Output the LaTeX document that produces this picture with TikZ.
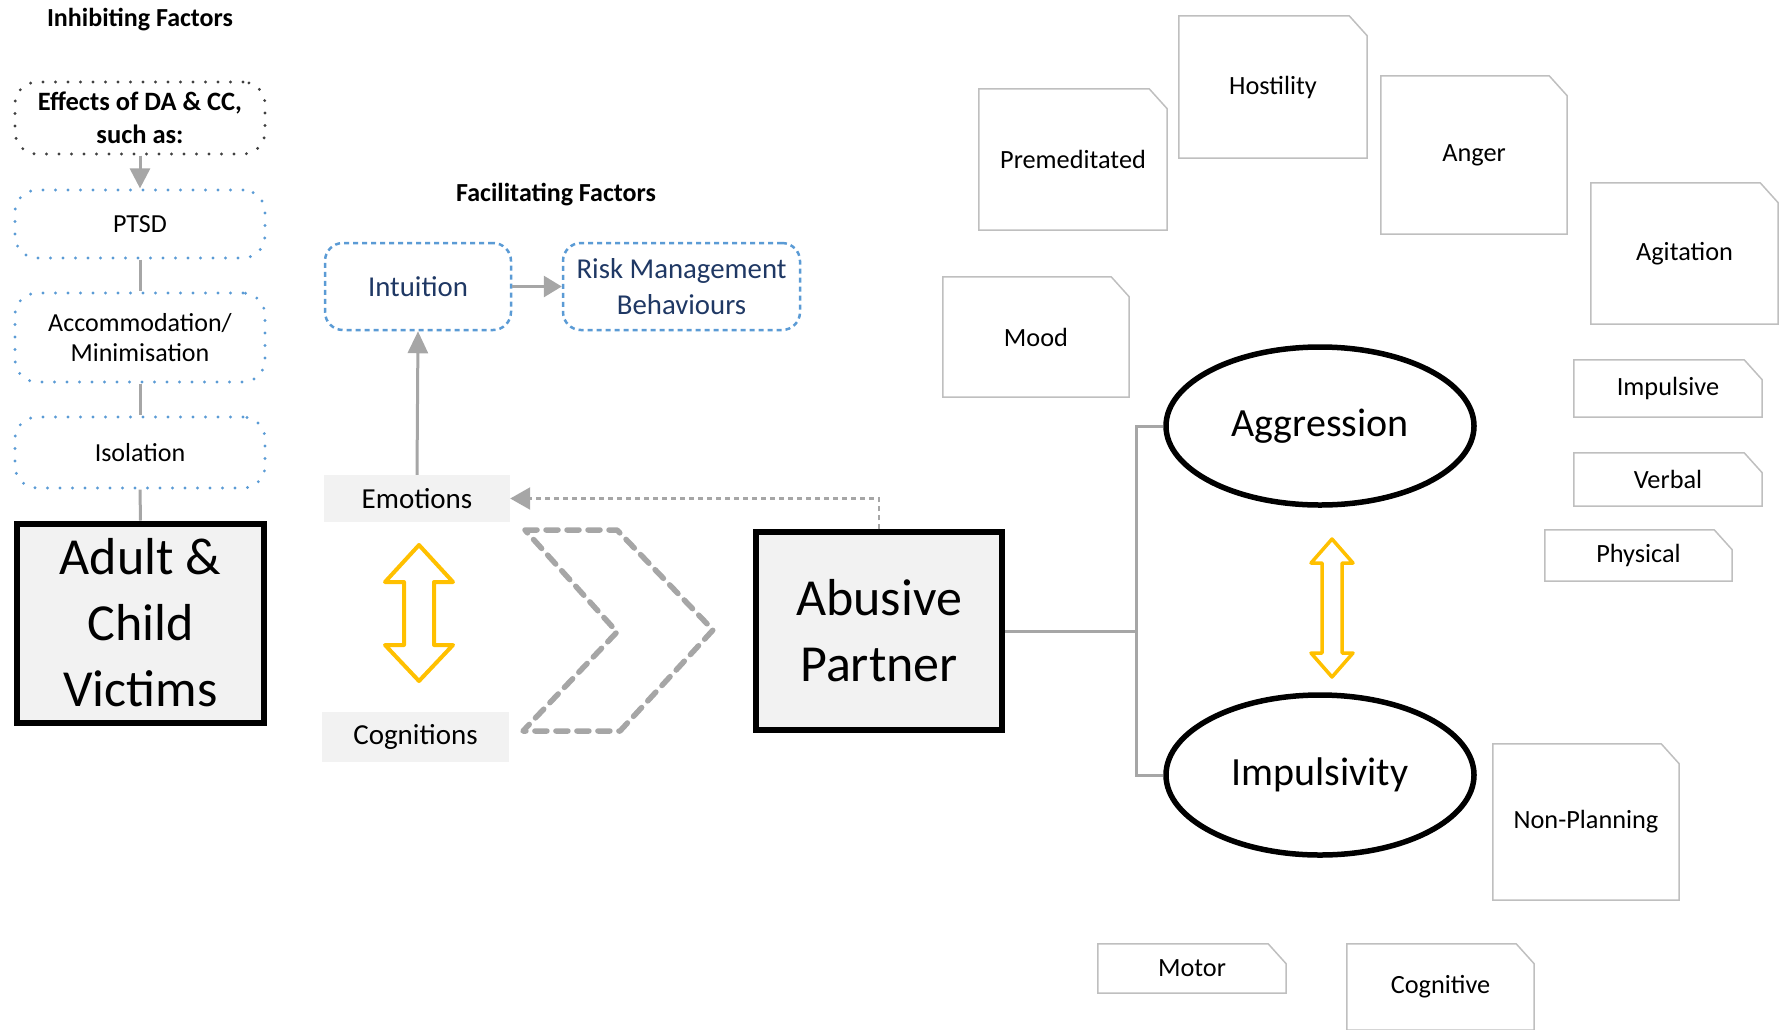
\documentclass[tikz,border=0pt]{standalone}
\usepackage{fontspec}
\setmainfont{Carlito}
\usetikzlibrary{arrows.meta,shapes.geometric}

\definecolor{linegray}{RGB}{166,166,166}
\definecolor{boxfill}{RGB}{242,242,242}
\definecolor{dotblue}{RGB}{91,155,213}
\definecolor{dotdark}{RGB}{64,64,64}
\definecolor{navytext}{RGB}{31,56,100}
\definecolor{notegray}{RGB}{191,191,191}
\definecolor{amber}{RGB}{255,192,0}

\newcommand{\fsz}[2]{\fontsize{#1}{#2}\selectfont}

\begin{document}
\begin{tikzpicture}[x=1pt,y=-1pt,
  every node/.style={inner sep=0pt,align=center},
  title/.style={font=\fsz{26}{30}\bfseries},
  dotbox/.style={draw=dotblue,line width=3.2pt,dash pattern=on 0pt off 12.5pt,line cap=round,rounded corners=22pt,font=\fsz{26}{30},minimum width=250pt},
  dashbox/.style={draw=dotblue,line width=2.5pt,dash pattern=on 5pt off 4pt,rounded corners=18pt,text=navytext,font=\fsz{28.8}{36},minimum height=87pt},
  greybox/.style={fill=boxfill,font=\fsz{29}{34}},
  bigbox/.style={draw,fill=boxfill,line width=6pt,font=\fsz{52}{66}},
  oval/.style={ellipse,draw,line width=5.5pt,font=\fsz{40}{48},minimum width=308pt},
  note/.style={font=\fsz{26.3}{30}},
  link/.style={draw=linegray,line width=3pt},
  tip/.style={-{Triangle[length=20pt,width=20pt]}},
  yarrow/.style={draw=amber,line join=round}
]
\useasboundingbox (0,0) rectangle (1784,1029);

\node[title] (inhib) at (140,20) {Inhibiting Factors};
\node[dotbox,draw=dotdark,font=\fsz{26.5}{33}\bfseries,minimum height=72pt] (effects) at (140,118) {Effects of DA \& CC,\\such as:};
\node[dotbox,minimum height=68pt] (ptsd) at (140,224) {PTSD};
\node[dotbox,minimum height=89pt] (accom) at (140,337.5) {Accommodation/\\Minimisation};
\node[dotbox,minimum height=71pt] (isol) at (140,452.5) {Isolation};
\node[bigbox,minimum width=247pt,minimum height=199pt] (victims) at (140.5,623) {Adult \&\\Child\\Victims};

\draw[link,tip] (effects.south) -- (ptsd.north);
\draw[link] (ptsd.south) -- (accom.north);
\draw[link] (accom.south) -- (isol.north);
\draw[link] (isol.south) -- (victims.north);

\node[title] (facil) at (556,195) {Facilitating Factors};
\node[dashbox,minimum width=186pt] (intuition) at (418,286.5) {Intuition};
\node[dashbox,minimum width=237pt] (risk) at (681.5,286.5) {Risk Management\\Behaviours};
\node[greybox,minimum width=186pt,minimum height=47pt] (emotions) at (417,498.5) {Emotions};
\node[greybox,minimum width=187pt,minimum height=50pt] (cognitions) at (415.5,737) {Cognitions};
\node[bigbox,line width=5.5pt,minimum width=246pt,minimum height=198pt] (abusive) at (879,631) {Abusive\\Partner};

\draw[link,-{Triangle[length=22pt,width=20pt]}] (emotions.north) -- (intuition.south);
\draw[link,-{Triangle[length=18pt,width=21pt]}] (intuition.east) -- (risk.west);
\draw[link,line width=2.5pt,dash pattern=on 5pt off 4pt,-{Triangle[length=20pt,width=22pt]}] (abusive.north) |- (emotions.east);

\draw[yarrow,line width=4pt] (419,545) -- (453,582) -- (434,582) -- (434,645) -- (453,645) -- (419,681)
  -- (385,645) -- (404,645) -- (404,582) -- (385,582) -- cycle;
\draw[draw=linegray,line width=5.5pt,dash pattern=on 12pt off 9pt,line cap=round,line join=round]
  (525,530) -- (617,530) -- (713,630) -- (620,731) -- (523,731) -- (617,632) -- cycle;

\node[oval,minimum height=158pt] (aggression) at (1320,426) {Aggression};
\node[oval,minimum height=160pt] (impulsivity) at (1320,775) {Impulsivity};
\coordinate (fork) at (1136,631);
\draw[link] (abusive.east) -- (fork);
\draw[link] (aggression.west) -- (aggression.west -| fork) |- (impulsivity.west);

\draw[yarrow,line width=3.5pt] (1332,539) -- (1353,563) -- (1342,563) -- (1342,653) -- (1353,653) -- (1332,677)
  -- (1311,653) -- (1322,653) -- (1322,563) -- (1311,563) -- cycle;

\node[note,minimum width=188pt,minimum height=141pt] (premed) at (1073,159.5) {Premeditated};
\node[note,minimum width=188pt,minimum height=142pt] (hostility) at (1273,87) {Hostility};
\node[note,minimum width=186pt,minimum height=158pt] (anger) at (1474,155) {Anger};
\node[note,minimum width=187pt,minimum height=141pt] (agitation) at (1684.5,253.5) {Agitation};
\node[note,minimum width=186pt,minimum height=120pt] (mood) at (1036,337) {Mood};
\node[note,minimum width=188pt,minimum height=57pt] (impulsive) at (1668,388.5) {Impulsive};
\node[note,minimum width=188pt,minimum height=53pt] (verbal) at (1668,479.5) {Verbal};
\node[note,minimum width=187pt,minimum height=51pt] (physical) at (1638.5,555.5) {Physical};
\node[note,minimum width=186pt,minimum height=156pt] (nonplan) at (1586,822) {Non-Planning};
\node[note,minimum width=188pt,minimum height=49pt] (motor) at (1192,968.5) {Motor};
\node[note,minimum width=187pt,minimum height=86pt] (cognitive) at (1440.5,987) {Cognitive};

\foreach \n in {premed,hostility,anger,agitation,mood,impulsive,verbal,physical,nonplan,motor,cognitive}
  \draw[draw=notegray,line width=1.5pt] (\n.south west) -- (\n.north west) -- ([xshift=-18pt]\n.north east)
    -- ([yshift=-20pt]\n.north east) -- (\n.south east) -- cycle;
\end{tikzpicture}
\end{document}
